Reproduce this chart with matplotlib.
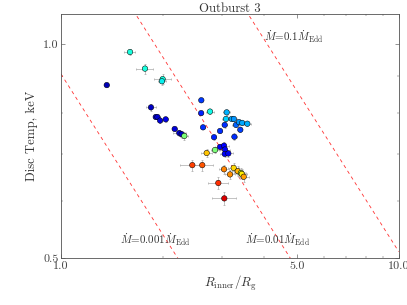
import numpy as np
import matplotlib
matplotlib.use("Agg")
import matplotlib.pyplot as plt
from matplotlib.ticker import FixedLocator, NullFormatter, FixedFormatter

plt.rcParams['font.family'] = 'serif'
plt.rcParams['font.serif'] = ['cmr10', 'DejaVu Serif']
plt.rcParams['mathtext.fontset'] = 'cm'
plt.rcParams['axes.formatter.use_mathtext'] = True

# Data
r_inner = [1.601, 1.773, 2.00, 1.99, 1.366, 1.847, 1.908, 1.93, 1.965, 2.042,
           2.171, 2.24, 2.277, 2.318, 2.603, 2.600, 2.762, 2.634, 2.839, 2.958,
           3.053, 3.095, 3.08, 3.203, 3.25, 3.297, 3.366, 3.44, 3.563, 3.396,
           3.262, 2.958, 3.039, 3.06, 3.053, 3.13, 2.858, 2.700, 2.448, 2.62,
           3.039, 3.166, 3.246, 3.337, 3.41, 3.43, 3.476, 2.923, 3.045]
t_disc = [0.974, 0.923, 0.892, 0.886, 0.875, 0.814, 0.789, 0.789, 0.780, 0.783,
          0.759, 0.749, 0.746, 0.742, 0.833, 0.799, 0.803, 0.763, 0.739, 0.754,
          0.769, 0.801, 0.784, 0.784, 0.784, 0.769, 0.776, 0.774, 0.772, 0.757,
          0.740, 0.716, 0.719, 0.710, 0.700, 0.701, 0.709, 0.702, 0.675, 0.675,
          0.666, 0.655, 0.669, 0.662, 0.658, 0.656, 0.650, 0.637, 0.606]
r_err = [0.06, 0.10, 0.12, 0.05, 0.02, 0.06, 0.03, 0.03, 0.03, 0.03,
         0.04, 0.10, 0.05, 0.06, 0.03, 0.03, 0.08, 0.03, 0.04, 0.04,
         0.05, 0.08, 0.08, 0.08, 0.08, 0.08, 0.08, 0.08, 0.08, 0.05,
         0.06, 0.10, 0.10, 0.10, 0.10, 0.10, 0.08, 0.10, 0.20, 0.20,
         0.10, 0.10, 0.12, 0.12, 0.12, 0.12, 0.12, 0.20, 0.25]
t_err = [0.010, 0.015, 0.015, 0.010, 0.005, 0.010, 0.006, 0.006, 0.006, 0.006,
         0.006, 0.008, 0.008, 0.010, 0.005, 0.005, 0.006, 0.005, 0.006, 0.006,
         0.007, 0.006, 0.006, 0.006, 0.006, 0.006, 0.006, 0.006, 0.006, 0.006,
         0.008, 0.008, 0.008, 0.008, 0.008, 0.008, 0.008, 0.010, 0.012, 0.012,
         0.010, 0.010, 0.010, 0.010, 0.010, 0.010, 0.010, 0.012, 0.012]
color_val = [0.38, 0.38, 0.38, 0.36, 0.05, 0.06, 0.07, 0.07, 0.08, 0.09,
             0.08, 0.06, 0.07, 0.50, 0.18, 0.16, 0.37, 0.17, 0.16, 0.17,
             0.17, 0.30, 0.33, 0.29, 0.27, 0.22, 0.27, 0.29, 0.30, 0.19,
             0.17, 0.10, 0.11, 0.12, 0.10, 0.10, 0.50, 0.70, 0.84, 0.82,
             0.77, 0.76, 0.68, 0.72, 0.58, 0.66, 0.74, 0.86, 0.92]

mdot_levels = [0.001, 0.01, 0.1]
mdot_labels = [r'$\dot{M}$=0.001$\dot{M}_{\rm Edd}$',
               r'$\dot{M}$=0.01$\dot{M}_{\rm Edd}$',
               r'$\dot{M}$=0.1$\dot{M}_{\rm Edd}$']
label_pos = [(1.495, 0.530), (3.507, 0.530), (3.99, 1.024)]
norm_const = 5.1

fig = plt.figure(figsize=(8, 6), dpi=50.875)
ax = fig.add_axes([0.1499, 0.155, 0.8297, 0.7967])

rr = np.logspace(0, 1, 200)
for m in mdot_levels:
    ax.plot(rr, norm_const * m ** 0.25 * rr ** -0.75, '--', color='red',
            lw=1.2, alpha=0.8, dashes=(4, 4))
for lab, (lx, ly) in zip(mdot_labels, label_pos):
    ax.text(lx, ly, lab, fontsize=15.5, va='center', ha='left', color='#333333')

ax.errorbar(r_inner, t_disc, xerr=r_err, yerr=t_err, fmt='none',
            ecolor='#aaaaaa', elinewidth=1, capsize=2, zorder=2)
ax.scatter(r_inner, t_disc, c=color_val, cmap='jet', vmin=0, vmax=1, s=60,
           edgecolors='black', linewidths=0.7, zorder=3)

ax.set_xscale('log')
ax.set_yscale('log')
ax.set_xlim(1.0, 10.0)
ax.set_ylim(0.5, 1.1)

ax.xaxis.set_major_locator(FixedLocator([1.0, 5.0, 10.0]))
ax.xaxis.set_major_formatter(FixedFormatter(['1.0', '5.0', '10.0']))
ax.xaxis.set_minor_locator(FixedLocator([2, 3, 4, 6, 7, 8, 9]))
ax.xaxis.set_minor_formatter(NullFormatter())
ax.yaxis.set_major_locator(FixedLocator([0.5, 1.0]))
ax.yaxis.set_major_formatter(FixedFormatter(['0.5', '1.0']))
ax.yaxis.set_minor_locator(FixedLocator([0.6, 0.7, 0.8, 0.9]))
ax.yaxis.set_minor_formatter(NullFormatter())

ax.tick_params(which='both', direction='in', top=True, right=True,
               labelsize=17, colors='#444444')
ax.tick_params(axis='y', pad=3)
ax.tick_params(axis='x', pad=5)
ax.tick_params(which='major', length=6)
ax.tick_params(which='minor', length=3)
for sp in ax.spines.values():
    sp.set_color('#555555')
    sp.set_linewidth(1.2)

ax.set_title('Outburst 3', fontsize=18, color='#333333', pad=1)
ax.set_xlabel(r'$R_{\rm inner}/R_{\rm g}$', fontsize=18, color='#333333',
              labelpad=4)
ax.set_ylabel('Disc Temp, keV', fontsize=18, color='#333333', labelpad=8)

fig.savefig('out.png', dpi=50.875, facecolor='white')
